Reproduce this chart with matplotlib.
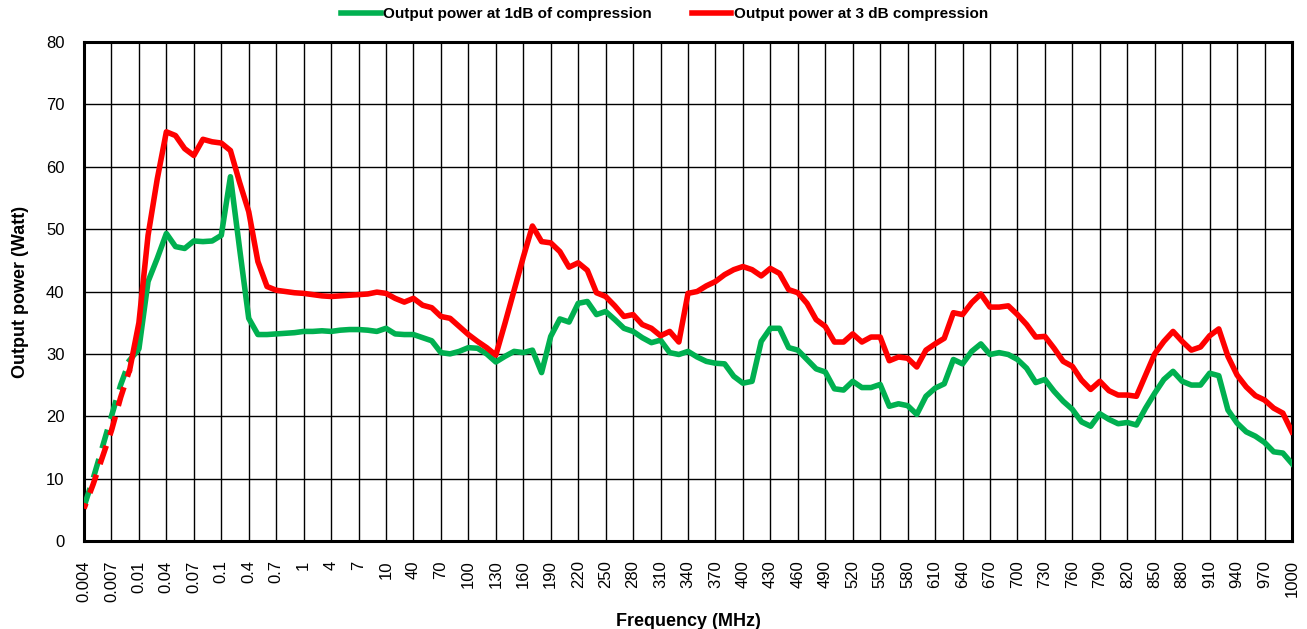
import numpy as np
import matplotlib
matplotlib.use("Agg")
import matplotlib.pyplot as plt

# ================== 数据 ==================
tick_labels = ["0.004", "0.007", "0.01", "0.04", "0.07", "0.1", "0.4", "0.7", "1", "4", "7", "10",
               "40", "70", "100", "130", "160", "190", "220", "250", "280", "310", "340", "370",
               "400", "430", "460", "490", "520", "550", "580", "610", "640", "670", "700", "730",
               "760", "790", "820", "850", "880", "910", "940", "970", "1000"]

# 每两个标注频率之间有两个测量点（共 133 点）
p1db = [5.5, 10.0, 15.0, 20.0, 25.0, 29.0, 30.8, 41.6, 45.3, 49.3, 47.2, 46.9, 48.1, 48.0, 48.1, 49.0,
        58.4, 46.9, 35.7, 33.1, 33.1, 33.2, 33.3, 33.4, 33.6, 33.6, 33.7, 33.6, 33.8, 33.9, 33.9, 33.8,
        33.6, 34.1, 33.2, 33.1, 33.1, 32.6, 32.1, 30.2, 30.0, 30.4, 31.0, 30.9, 30.0, 28.7, 29.6, 30.4,
        30.2, 30.6, 27.0, 32.8, 35.6, 35.1, 38.1, 38.4, 36.3, 36.8, 35.5, 34.1, 33.6, 32.6, 31.8, 32.2,
        30.2, 29.9, 30.4, 29.5, 28.8, 28.5, 28.4, 26.4, 25.3, 25.6, 32.0, 34.1, 34.1, 31.0, 30.6, 29.1,
        27.6, 27.1, 24.4, 24.2, 25.6, 24.6, 24.6, 25.1, 21.6, 22.0, 21.7, 20.3, 23.2, 24.5, 25.2, 29.1,
        28.4, 30.4, 31.6, 29.9, 30.2, 29.9, 29.1, 27.7, 25.4, 25.9, 24.0, 22.4, 21.1, 19.1, 18.4, 20.4,
        19.5, 18.8, 19.0, 18.6, 21.3, 23.7, 25.9, 27.2, 25.6, 25.0, 25.0, 26.9, 26.5, 21.0, 18.9, 17.5,
        16.8, 15.8, 14.3, 14.1, 12.4]

p3db = [5.2, 9.1, 13.4, 17.7, 23.0, 27.5, 35.0, 49.0, 58.0, 65.6, 65.0, 62.9, 61.8, 64.4, 64.0, 63.8,
        62.6, 57.5, 52.8, 44.8, 40.8, 40.2, 40.0, 39.8, 39.7, 39.5, 39.3, 39.2, 39.3, 39.4, 39.5, 39.6,
        39.9, 39.7, 38.9, 38.3, 38.9, 37.8, 37.4, 36.0, 35.7, 34.4, 33.1, 32.0, 31.0, 29.8, 34.9, 40.2,
        45.5, 50.5, 48.0, 47.8, 46.4, 43.9, 44.6, 43.4, 39.8, 39.2, 37.7, 36.0, 36.3, 34.7, 34.1, 32.9,
        33.6, 31.9, 39.7, 40.0, 40.9, 41.6, 42.7, 43.5, 44.0, 43.5, 42.5, 43.7, 42.9, 40.3, 39.8, 38.1,
        35.5, 34.4, 31.9, 31.9, 33.2, 31.9, 32.7, 32.7, 28.9, 29.5, 29.3, 27.9, 30.6, 31.6, 32.5, 36.6,
        36.3, 38.2, 39.6, 37.5, 37.5, 37.7, 36.3, 34.7, 32.7, 32.8, 30.9, 28.8, 28.0, 25.8, 24.3, 25.6,
        24.1, 23.4, 23.4, 23.2, 26.6, 30.0, 32.0, 33.6, 32.0, 30.6, 31.1, 32.9, 34.0, 29.6, 26.6, 24.7,
        23.3, 22.6, 21.3, 20.5, 17.5]

DASHED_UNTIL = 5   # 前几个点是外推段，用虚线
GREEN = "#00B050"
RED = "#FF0000"
# ==========================================

plt.rcParams['font.family'] = ['Liberation Sans', 'DejaVu Sans']

fig = plt.figure(figsize=(13.07, 6.29), dpi=100)
ax = fig.add_axes([84 / 1307, 1 - 541 / 629, (1292 - 84) / 1307, (541 - 42) / 629])

x = np.arange(len(p1db))
lw = 4.0

# 虚线部分（两条线交错显示）
ax.plot(x[:DASHED_UNTIL + 1], p1db[:DASHED_UNTIL + 1], color=GREEN, lw=lw,
        linestyle=(0, (3.5, 2)), dash_capstyle='butt', zorder=3)
ax.plot(x[:DASHED_UNTIL + 1], p3db[:DASHED_UNTIL + 1], color=RED, lw=lw,
        linestyle=(2.5, (3.5, 2)), dash_capstyle='butt', zorder=4)

# 实线部分
ax.plot(x[DASHED_UNTIL:], p1db[DASHED_UNTIL:], color=GREEN, lw=lw, zorder=3,
        solid_joinstyle='round', label="Output power at 1dB of compression")
ax.plot(x[DASHED_UNTIL:], p3db[DASHED_UNTIL:], color=RED, lw=lw, zorder=4,
        solid_joinstyle='round', label="Output power at 3 dB compression")

ax.set_xlim(0, len(p1db) - 1)
ax.set_ylim(0, 80)
tick_pos = np.arange(0, len(p1db), 3)
ax.set_xticks(tick_pos)
ax.set_xticklabels(tick_labels, rotation=90, ha='center', va='top', fontsize=12)
ax.set_yticks(np.arange(0, 81, 10))
ax.tick_params(axis='y', length=0, pad=14, labelsize=12)
ax.tick_params(axis='x', length=0, pad=14)

ax.grid(True, color='black', linewidth=1.0)
ax.set_axisbelow(True)
for sp in ax.spines.values():
    sp.set_linewidth(2.2)
    sp.set_color('black')

ax.set_xlabel("Frequency (MHz)", fontsize=13, fontweight='bold', labelpad=8)
ax.set_ylabel("Output power (Watt)", fontsize=13, fontweight='bold', labelpad=12)

fig.legend(loc='center', bbox_to_anchor=(664.5 / 1307, 1 - 14 / 629), ncol=2, frameon=False,
           prop={'weight': 'bold', 'size': 11}, handlelength=2.6, handletextpad=0.15,
           columnspacing=2.6)

fig.savefig("out.png", dpi=100)
